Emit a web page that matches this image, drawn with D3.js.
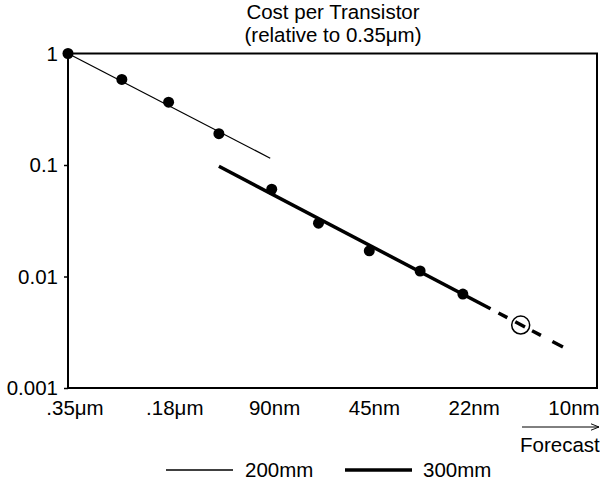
<!DOCTYPE html>
<html>
<head>
<meta charset="utf-8">
<script src="https://cdn.jsdelivr.net/npm/d3@7"></script>
<style>
  html, body { margin: 0; padding: 0; background: #fff; }
  svg { display: block; font-family: "Liberation Sans", Arial, sans-serif; }
</style>
</head>
<body>
<svg id="chart" width="600" height="481"></svg>
<script>
// Process nodes along the x axis (index position = node step)
const nodeLabels = [".35μm", ".18μm", "90nm", "45nm", "22nm", "10nm"];
const nodeLabelPos = [0, 2, 4, 6, 8, 10];

// Measured cost per transistor, relative to 0.35μm
const wafer200Pos = [0, 1.07, 2.0, 3.0];
const wafer200Cost = [1, 0.585, 0.366, 0.191];
const wafer300Pos = [4.05, 4.98, 5.99, 7.0, 7.85];
const wafer300Cost = [0.0606, 0.0301, 0.0170, 0.0112, 0.00695];

// Trend lines (start / end in node position and relative cost)
const trend200Pos = [0, 4.02];
const trend200Cost = [1, 0.115];
const trend300Pos = [3.0, 8.4];
const trend300Cost = [0.0973, 0.00514];
const forecastPos = [8.4, 9.84];
const forecastCost = [0.00514, 0.00233];

// Forecast point
const forecastPointPos = [9.0];
const forecastPointCost = [0.00367];

const yTicks = [1, 0.1, 0.01, 0.001];

const svg = d3.select("#chart");
const plotLeft = 68, plotRight = 597, plotTop = 53.5, plotBottom = 388;
const fontSize = 20.5;

const x = d3.scaleLinear().domain([0, 10]).range([plotLeft, 571]);
// category labels sit slightly right of the node positions
const xLabel = d3.scaleLinear().domain([0, 10]).range([75, 574]);
const y = d3.scaleLog().domain([0.001, 1]).range([plotBottom, plotTop]);

// Title
svg.append("text").attr("x", 333).attr("y", 19).attr("text-anchor", "middle")
  .attr("font-size", fontSize).text("Cost per Transistor");
svg.append("text").attr("x", 333).attr("y", 42).attr("text-anchor", "middle")
  .attr("font-size", fontSize).text("(relative to 0.35μm)");

// Plot frame
svg.append("rect").attr("x", plotLeft).attr("y", plotTop)
  .attr("width", plotRight - plotLeft).attr("height", plotBottom - plotTop)
  .attr("fill", "none").attr("stroke", "#000").attr("stroke-width", 2);

// Y axis (log)
const yAxis = svg.append("g").attr("transform", `translate(${plotLeft},0)`)
  .call(d3.axisLeft(y).tickValues(yTicks).tickFormat(d => String(d)).tickSize(4).tickPadding(6));
yAxis.select(".domain").remove();
yAxis.selectAll("line").attr("stroke", "#000").attr("stroke-width", 1.5);
yAxis.selectAll("text").attr("font-size", fontSize).attr("fill", "#000")
  .attr("font-family", "'Liberation Sans', Arial, sans-serif");

// X labels
svg.append("g").selectAll("text").data(nodeLabels).join("text")
  .attr("x", (d, i) => xLabel(nodeLabelPos[i]))
  .attr("y", 415)
  .attr("text-anchor", "middle")
  .attr("font-size", fontSize)
  .text(d => d);

// Forecast arrow + caption
const defs = svg.append("defs");
defs.append("marker").attr("id", "arrow").attr("viewBox", "0 0 10 10")
  .attr("refX", 10).attr("refY", 5).attr("markerWidth", 8).attr("markerHeight", 8)
  .attr("markerUnits", "userSpaceOnUse").attr("orient", "auto")
  .append("path").attr("d", "M0,1 L10,5 L0,9").attr("fill", "none")
  .attr("stroke", "#000").attr("stroke-width", 1.2);
svg.append("line").attr("x1", 522).attr("x2", 599).attr("y1", 427).attr("y2", 427)
  .attr("stroke", "#000").attr("stroke-width", 1).attr("marker-end", "url(#arrow)");
svg.append("text").attr("x", 520).attr("y", 452).attr("font-size", fontSize).text("Forecast");

// Trend lines
const line = d3.line().x(d => x(d[0])).y(d => y(d[1]));
svg.append("path").datum(d3.zip(trend200Pos, trend200Cost)).attr("d", line)
  .attr("fill", "none").attr("stroke", "#000").attr("stroke-width", 1.3);
svg.append("path").datum(d3.zip(trend300Pos, trend300Cost)).attr("d", line)
  .attr("fill", "none").attr("stroke", "#000").attr("stroke-width", 3.5);
svg.append("path").datum(d3.zip(forecastPos, forecastCost)).attr("d", line)
  .attr("fill", "none").attr("stroke", "#000").attr("stroke-width", 3.5)
  .attr("stroke-dasharray", "0,9,10,9,11,8,10,13,12");

// Data points
const dots = d3.zip(wafer200Pos, wafer200Cost).concat(d3.zip(wafer300Pos, wafer300Cost));
svg.append("g").selectAll("circle").data(dots).join("circle")
  .attr("cx", d => x(d[0])).attr("cy", d => y(d[1])).attr("r", 5.5).attr("fill", "#000");

// Forecast point (open circle)
svg.append("g").selectAll("circle").data(d3.zip(forecastPointPos, forecastPointCost)).join("circle")
  .attr("cx", d => x(d[0])).attr("cy", d => y(d[1])).attr("r", 9)
  .attr("fill", "none").attr("stroke", "#000").attr("stroke-width", 1.5);

// Legend
const legend = svg.append("g");
legend.append("line").attr("x1", 166).attr("x2", 233).attr("y1", 470).attr("y2", 470)
  .attr("stroke", "#000").attr("stroke-width", 1.3);
legend.append("text").attr("x", 245).attr("y", 477).attr("font-size", fontSize).text("200mm");
legend.append("line").attr("x1", 345).attr("x2", 412).attr("y1", 470).attr("y2", 470)
  .attr("stroke", "#000").attr("stroke-width", 3.5);
legend.append("text").attr("x", 423).attr("y", 477).attr("font-size", fontSize).text("300mm");
</script>
</body>
</html>
